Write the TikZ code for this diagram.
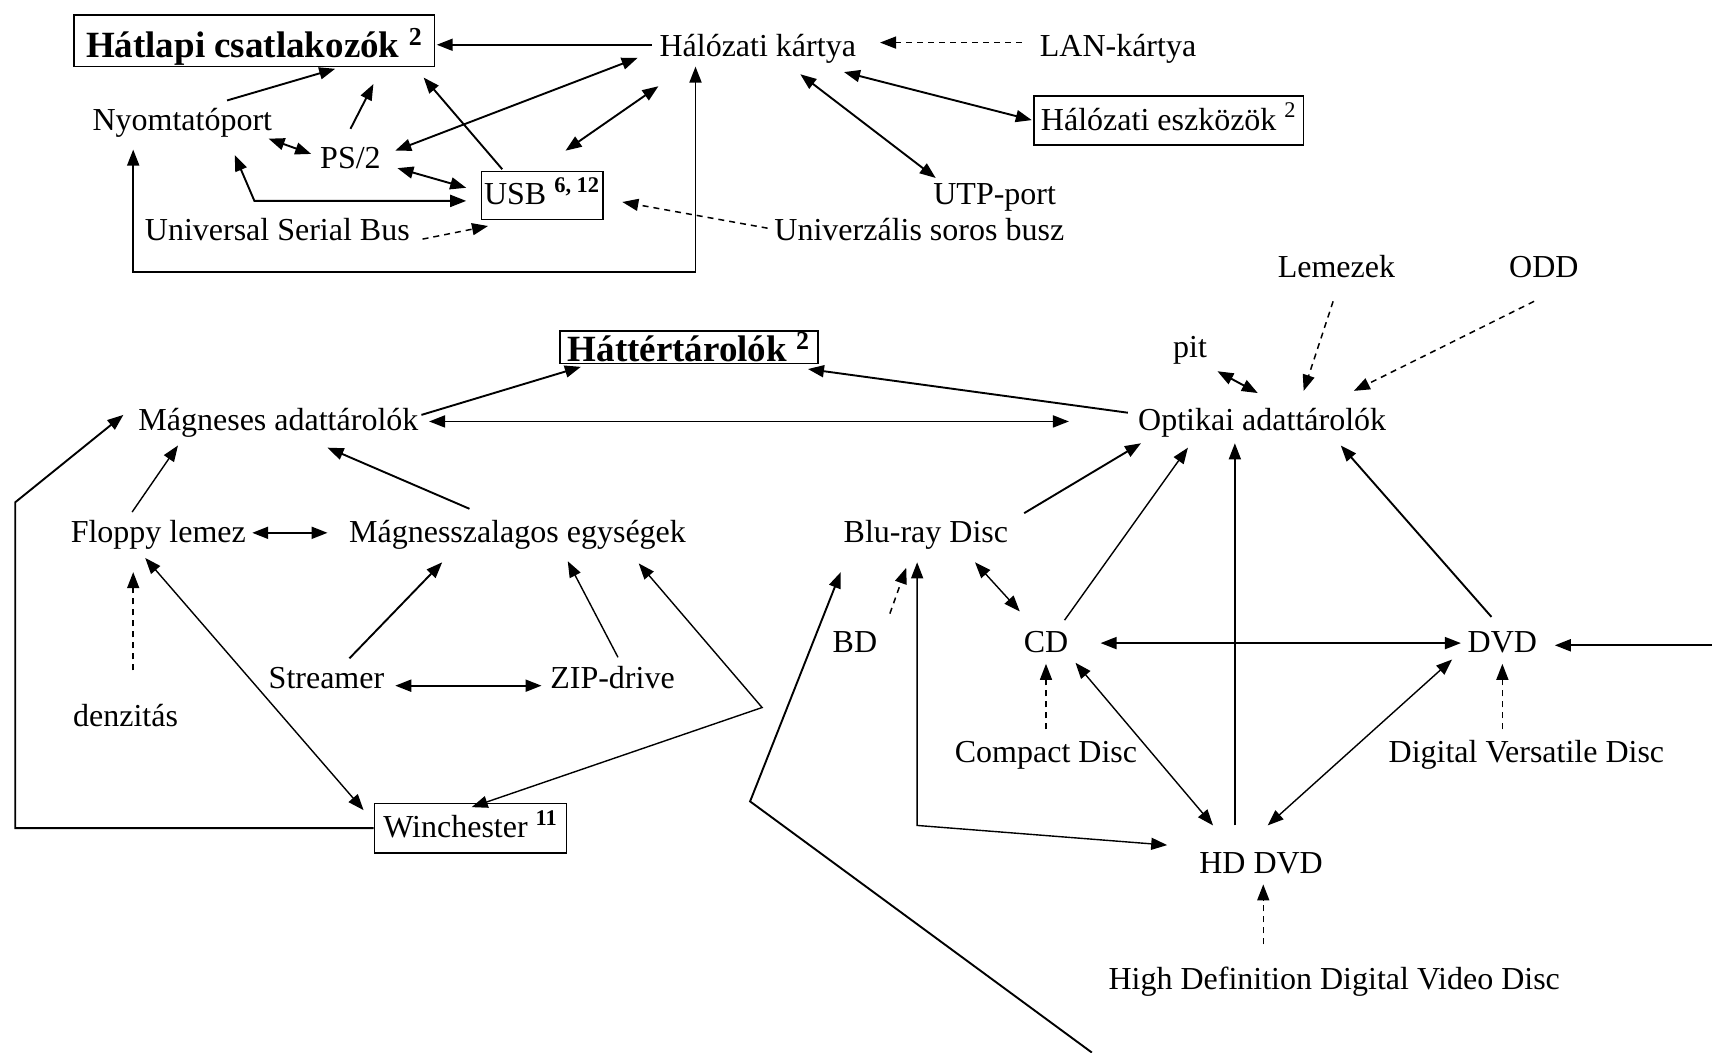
\documentclass[tikz,border=0pt]{standalone}
\usepackage{fontspec}
\setmainfont{Liberation Serif}
\usetikzlibrary{arrows.meta,calc}
\begin{document}
\begin{tikzpicture}[x=0.5459pt,y=-0.5459pt,
  every node/.style={font=\fontsize{16}{19}\selectfont, inner sep=0pt,
    text height=0.95em, text depth=0pt},
  boxed/.style={draw, line width=0.8pt},
  heading/.style={font=\fontsize{18.5}{22}\selectfont\bfseries, text height=1em},
  tip/.tip={Triangle[length=8pt,width=6pt]},
  one/.style={line width=0.95pt, -tip},
  two/.style={line width=0.95pt, tip-tip},
  thinone/.style={line width=0.7pt, -tip},
  thintwo/.style={line width=0.7pt, tip-tip},
  hint/.style={line width=0.75pt, dash pattern=on 3pt off 2.5pt, -tip}
]
\useasboundingbox (0,0) rectangle (1568,964);

% ---------- back panel connectors ----------
\node[boxed, heading, minimum width=180.1pt, minimum height=25.7pt] (hatlapi) at (233,37.5)
  {\raisebox{-3.4pt}{Hátlapi csatlakozók \textsuperscript{2}}};
\node (hk) at (694,43) {Hálózati kártya};
\node (lan) at (1024,43) {LAN-kártya};
\node (nyom) at (167,111) {Nyomtatóport};
\node (ps2) at (321,146) {PS/2};
\node[boxed, minimum width=60.6pt, minimum height=24pt] (usb) at (496.5,179)
  {USB \textsuperscript{\textbf{6, 12}}};
\node[boxed, minimum width=134.8pt, minimum height=24.6pt] (eszk) at (1070.5,110.5)
  {Hálózati eszközök \textsuperscript{2}};
\node (utp) at (911,179) {UTP-port};
\node (usbus) at (254,212) {Universal Serial Bus};
\node (usz) at (842,212) {Univerzális soros busz};

% ---------- storage ----------
\node (lemez) at (1224,245) {Lemezek};
\node (odd) at (1414,245) {ODD};
\node (pit) at (1090,319) {pit};
\node[boxed, heading, minimum width=128.8pt, minimum height=16.4pt] (hatter) at (631,318)
  {\raisebox{-2.3pt}{Háttértárolók \textsuperscript{2}}};
\node (magn) at (255,386) {Mágneses adattárolók};
\node (opt) at (1156,386) {Optikai adattárolók};
\node (floppy) at (145,488) {Floppy lemez};
\node (szalag) at (474,488) {Mágnesszalagos egységek};
\node (bluray) at (848,488) {Blu-ray Disc};
\node (bd) at (783,589) {BD};
\node (cd) at (958,589) {CD};
\node (dvd) at (1376,589) {DVD};
\node (streamer) at (299,622) {Streamer};
\node (zip) at (561,622) {ZIP-drive};
\node (denz) at (115,657) {denzitás};
\node (compact) at (958,690) {Compact Disc};
\node (dvdlong) at (1398,690) {Digital Versatile Disc};
\node[boxed, minimum width=96.1pt, minimum height=24.6pt] (winch) at (431,758.5)
  {Winchester \textsuperscript{\textbf{11}}};
\node (hddvd) at (1155,791) {HD DVD};
\node (hddisc) at (1222,898) {High Definition Digital Video Disc};

\coordinate (offbottom) at (1000,964);
\coordinate (offright) at (1568,591);

% ---------- connectors, upper part ----------
\draw[one] ($(hk)+(-97,-2)$) -- ($(hatlapi)+(167,3.5)$);
\draw[hint] ($(lan)+(-88,-4)$) -- ($(hk)+(112,-4)$);
\draw[two] ($(hk)+(79,23)$) -- ($(eszk)+(-125.5,-0.5)$);
\draw[two] ($(hk)+(39,25)$) -- ($(utp)+(-54,-16)$);
\draw[one] ($(nyom)+(41,-19)$) -- ($(hatlapi)+(74,25.5)$);
\draw[one] ($(ps2)+(0,-28)$) -- ($(hatlapi)+(109,39.5)$);
\draw[one] ($(usb)+(-36.5,-24)$) -- ($(hatlapi)+(155,33.5)$);
\draw[two] ($(ps2)+(41,-8)$) -- ($(hk)+(-110,10)$);
\draw[two] ($(usb)+(21.5,-41)$) -- ($(hk)+(-91,36)$);
\draw[two] ($(nyom)+(79,16)$) -- ($(ps2)+(-36,-5)$);
\draw[two] ($(ps2)+(43,8)$) -- ($(usb)+(-69.5,-7)$);
\draw[two] ($(nyom)+(48,31)$) -- ($(nyom)+(66,73)$) -- ($(usb)+(-69.5,5)$);
\draw[hint] ($(usbus)+(133,7)$) -- ($(usb)+(-49.5,28)$);
\draw[hint] ($(usz)+(-139,-3)$) -- ($(usb)+(73.5,6)$);
\draw[two] ($(nyom)+(-45,26)$) -- ($(nyom)+(-45,138)$) -| ($(hk)+(-57,18)$);

% ---------- connectors, lower part ----------
\draw[one] ($(magn)+(131,-6)$) -- ($(hatter)+(-99,18)$);
\draw[one] ($(opt)+(-123,-8)$) -- ($(hatter)+(109,20)$);
\draw[two] ($(magn)+(138,0)$) -- ($(opt)+(-177,0)$);
\draw[two] ($(pit)+(25,21)$) -- ($(opt)+(-4,-26)$);
\draw[hint] ($(lemez)+(-3,31)$) -- ($(opt)+(38,-28)$);
\draw[hint] ($(odd)+(-9,31)$) -- ($(opt)+(84,-28)$);

\draw[thinone] ($(floppy)+(-24,-19)$) -- ($(magn)+(-92,22)$);
\draw[one] ($(szalag)+(-44,-22)$) -- ($(magn)+(45,24)$);
\draw[two] ($(floppy)+(86,0)$) -- ($(szalag)+(-174,0)$);
\draw[one] (winch.west) -| ($(magn)+(-241,74)$) -- ($(magn)+(-142,-6)$);
\draw[hint] ($(denz)+(7,-43)$) -- ($(floppy)+(-23,36)$);
\draw[thintwo] ($(floppy)+(-12,23)$) -- ($(winch)+(-98,-16.5)$);
\draw[one] ($(streamer)+(21,-19)$) -- ($(szalag)+(-69,27)$);
\draw[thinone] ($(zip)+(5,-20)$) -- ($(szalag)+(46,26)$);
\draw[two] ($(streamer)+(63,6)$) -- ($(zip)+(-65,6)$);
\draw[thintwo] ($(szalag)+(111,28)$) -- ($(szalag)+(224,160)$) -- ($(winch.north)+(1,4)$);

\draw[one] ($(bluray)+(90,-18)$) -- ($(opt)+(-111,20)$);
\draw[hint] ($(bd)+(32,-27)$) -- ($(bluray)+(-18,32)$);
\draw[one] (offbottom) -- ($(bluray)+(-161,246)$) -- ($(bluray)+(-78,36)$);
\draw[thintwo] ($(bluray)+(45,27)$) -- ($(cd)+(-24,-29)$);
\draw[thinone] ($(cd)+(17,-21)$) -- ($(opt)+(-68,24)$);
\draw[two] ($(cd)+(50,0)$) -- ($(dvd)+(-38,0)$);
\draw[one] ($(dvd)+(-10,-24)$) -- ($(opt)+(72,22)$);
\draw[one] (offright) -- ($(dvd)+(48,2)$);
\draw[thinone] ($(hddvd)+(-24,-35)$) -- ($(opt)+(-25,20)$);
\draw[hint] ($(compact)+(0,-22)$) -- ($(cd)+(0,19)$);
\draw[hint] ($(dvdlong)+(-22,-22)$) -- ($(dvd)+(0,19)$);
\draw[thintwo] ($(cd)+(27,18)$) -- ($(hddvd)+(-44,-35)$);
\draw[thintwo] ($(dvd)+(-46,15)$) -- ($(hddvd)+(6,-35)$);
\draw[thintwo] ($(bluray)+(-8,27)$) -- ($(bluray)+(-8,268)$) -- ($(hddvd)+(-86,-17)$);
\draw[hint] ($(hddisc)+(-65,-33)$) -- ($(hddvd)+(2,19)$);
\end{tikzpicture}
\end{document}
